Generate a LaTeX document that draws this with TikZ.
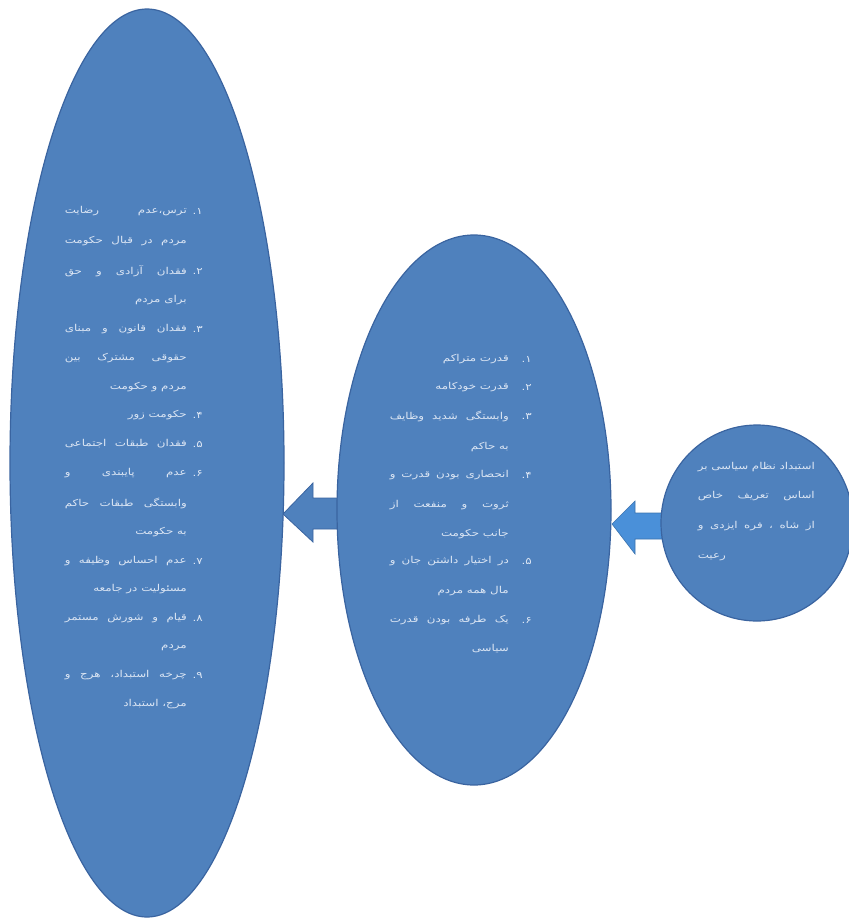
\documentclass[tikz,border=0pt]{standalone}
\usepackage{fontspec}
\newfontfamily\fa[Script=Arabic, FakeStretch=1.25]{DejaVu Sans}
\TeXXeTstate=1
\usetikzlibrary{shapes.geometric}
\definecolor{fillblue}{HTML}{4F81BD}
\definecolor{edgeblue}{HTML}{3A64A0}
\definecolor{arrowlight}{HTML}{4A90D9}
\definecolor{txtcol}{HTML}{DCE6F4}
\newcommand{\jline}[2]{\hbox to #1{\fa #2}}
\newcommand{\rline}[2]{\hbox to #1{\hfill\fa #2}}
\newcommand{\lline}[2]{\hbox to #1{\fa #2\hfill}}
\tikzset{
  ell/.style={ellipse, draw=edgeblue, line width=1.2pt, fill=fillblue, inner sep=0pt},
  txt/.style={text=txtcol, inner sep=0pt, font=\fontsize{9.5}{11}\selectfont, anchor=east},
  num/.style={text=txtcol, inner sep=0pt, font=\fontsize{9.5}{11}\selectfont, anchor=east},
  blockarrow/.style={fill=fillblue, draw=edgeblue, line width=0.8pt},
  blockarrowlight/.style={fill=arrowlight, draw=arrowlight!80!black, line width=0.6pt}
}
\begin{document}
\begin{tikzpicture}[x=1pt,y=-1pt]
\useasboundingbox (0,0) rectangle (849,919);
% block arrows (drawn first, ellipses cover the tails)
\coordinate (tipL) at (283,514);
\coordinate (tipR) at (612,524);
\draw[blockarrow] (tipL) -- ++(30,-31) -- ++(0,15) -- ++(32,0) -- ++(0,31) -- ++(-32,0) -- ++(0,13) -- cycle;
\draw[blockarrowlight] (tipR) -- ++(23,-23) -- ++(0,12) -- ++(38,0) -- ++(0,26) -- ++(-38,0) -- ++(0,15) -- cycle;
% shapes
\node[ell, minimum width=274pt, minimum height=908pt] (left) at (147,463) {};
\node[ell, minimum width=274pt, minimum height=550pt] (mid) at (474,510) {};
\node[ell, minimum width=192pt, minimum height=196pt] (right) at (757,523) {};
% right circle text
\node[txt] (r1) at (815,467) {\jline{117pt}{\beginR استبداد\hfill نظام\hfill سیاسی\hfill بر\endR}};
\node[txt] (r2) at (815,496) {\jline{117pt}{\beginR اساس\hfill تعریف\hfill خاص\endR}};
\node[txt] (r3) at (815,526) {\jline{117pt}{\beginR از\hfill شاه\hfill ،\hfill فره\hfill ایزدی\hfill و\endR}};
\node[txt] (r4) at (815,557) {\lline{117pt}{\beginR رعیت\endR}};
% middle text
\node[num] (m1n) at (532,359) {\fa\beginR ۱.\endR};
\node[txt] (m1) at (509,359) {\rline{119pt}{\beginR قدرت متراکم\endR}};
\node[num] (m2n) at (532,387) {\fa\beginR ۲.\endR};
\node[txt] (m2) at (509,387) {\rline{119pt}{\beginR قدرت خودکامه\endR}};
\node[num] (m3n) at (532,416) {\fa\beginR ۳.\endR};
\node[txt] (m3a) at (509,416) {\jline{119pt}{\beginR وابستگی\hfill شدید\hfill وظایف\endR}};
\node[txt] (m3b) at (509,447) {\rline{119pt}{\beginR به حاکم\endR}};
\node[num] (m4n) at (532,475) {\fa\beginR ۴.\endR};
\node[txt] (m4a) at (509,475) {\jline{119pt}{\beginR انحصاری\hfill بودن\hfill قدرت\hfill و\endR}};
\node[txt] (m4b) at (509,505) {\jline{119pt}{\beginR ثروت\hfill و\hfill منفعت\hfill از\endR}};
\node[txt] (m4c) at (509,534) {\rline{119pt}{\beginR جانب حکومت\endR}};
\node[num] (m5n) at (532,561) {\fa\beginR ۵.\endR};
\node[txt] (m5a) at (509,561) {\jline{119pt}{\beginR در\hfill اختیار\hfill داشتن\hfill جان\hfill و\endR}};
\node[txt] (m5b) at (509,591) {\rline{119pt}{\beginR مال همه مردم\endR}};
\node[num] (m6n) at (532,620) {\fa\beginR ۶.\endR};
\node[txt] (m6a) at (509,620) {\jline{119pt}{\beginR یک\hfill طرفه\hfill بودن\hfill قدرت\endR}};
\node[txt] (m6b) at (509,649) {\rline{119pt}{\beginR سیاسی\endR}};
% left text
\node[num] (l1n) at (203,211) {\fa\beginR ۱.\endR};
\node[txt] (l1a) at (187,211) {\jline{122pt}{\beginR ترس،عدم\hfill رضایت\endR}};
\node[txt] (l1b) at (187,241) {\jline{122pt}{\beginR مردم\hfill در\hfill قبال\hfill حکومت\endR}};
\node[num] (l2n) at (203,271) {\fa\beginR ۲.\endR};
\node[txt] (l2a) at (187,271) {\jline{122pt}{\beginR فقدان\hfill آزادی\hfill و\hfill حق\endR}};
\node[txt] (l2b) at (187,300) {\rline{122pt}{\beginR برای مردم\endR}};
\node[num] (l3n) at (203,329) {\fa\beginR ۳.\endR};
\node[txt] (l3a) at (187,329) {\jline{122pt}{\beginR فقدان\hfill قانون\hfill و\hfill مبنای\endR}};
\node[txt] (l3b) at (187,358) {\jline{122pt}{\beginR حقوقی\hfill مشترک\hfill بین\endR}};
\node[txt] (l3c) at (187,387) {\rline{122pt}{\beginR مردم و حکومت\endR}};
\node[num] (l4n) at (203,415) {\fa\beginR ۴.\endR};
\node[txt] (l4) at (187,415) {\rline{122pt}{\beginR حکومت زور\endR}};
\node[num] (l5n) at (203,444) {\fa\beginR ۵.\endR};
\node[txt] (l5) at (187,444) {\jline{122pt}{\beginR فقدان\hfill طبقات\hfill اجتماعی\endR}};
\node[num] (l6n) at (203,473) {\fa\beginR ۶.\endR};
\node[txt] (l6a) at (187,473) {\jline{122pt}{\beginR عدم\hfill پایبندی\hfill و\endR}};
\node[txt] (l6b) at (187,503) {\jline{122pt}{\beginR وابستگی\hfill طبقات\hfill حاکم\endR}};
\node[txt] (l6c) at (187,532) {\rline{122pt}{\beginR به حکومت\endR}};
\node[num] (l7n) at (203,561) {\fa\beginR ۷.\endR};
\node[txt] (l7a) at (187,561) {\jline{122pt}{\beginR عدم\hfill احساس\hfill وظیفه\hfill و\endR}};
\node[txt] (l7b) at (187,589) {\rline{122pt}{\beginR مسئولیت در جامعه\endR}};
\node[num] (l8n) at (203,618) {\fa\beginR ۸.\endR};
\node[txt] (l8a) at (187,618) {\jline{122pt}{\beginR قیام\hfill و\hfill شورش\hfill مستمر\endR}};
\node[txt] (l8b) at (187,648) {\rline{122pt}{\beginR مردم\endR}};
\node[num] (l9n) at (203,675) {\fa\beginR ۹.\endR};
\node[txt] (l9a) at (187,675) {\jline{122pt}{\beginR چرخه\hfill استبداد،\hfill هرج\hfill و\endR}};
\node[txt] (l9b) at (187,704) {\rline{122pt}{\beginR مرج، استبداد\endR}};
\end{tikzpicture}
\end{document}
